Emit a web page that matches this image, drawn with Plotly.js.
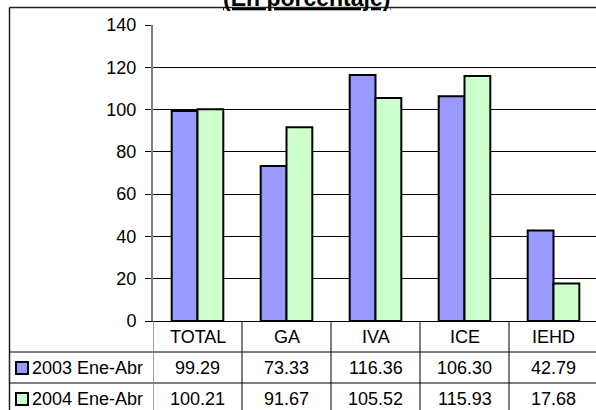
<!DOCTYPE html>
<html>
<head>
<meta charset="utf-8">
<script src="https://cdn.plot.ly/plotly-3.0.1.min.js"></script>
<style>
  html, body { margin: 0; padding: 0; overflow: hidden; background: #fff; }
  #chart { width: 598px; height: 410px; }
</style>
</head>
<body>
<div id="chart"></div>
<script>
const categories = ['TOTAL', 'GA', 'IVA', 'ICE', 'IEHD'];
const seriesNames = ['2003 Ene-Abr', '2004 Ene-Abr'];
const values2003 = [99.29, 73.33, 116.36, 106.30, 42.79];
const values2004 = [100.21, 91.67, 105.52, 115.93, 17.68];
const yTicks = [0, 20, 40, 60, 80, 100, 120, 140];
const titleText = '(En porcentaje)';

const colors = ['#9999FF', '#CCFFCC'];
const FONT = 'Liberation Sans, Arial, sans-serif';
const FS = 18;

// pixel -> paper helpers (plot area: x 153..598, y 25..321)
const L = 153, R = 598, T = 25, B = 321;
const px = v => (v - L) / (R - L);
const py = v => (B - v) / (B - T);

const traces = [values2003, values2004].map((vals, i) => ({
  type: 'bar',
  name: seriesNames[i],
  x: categories,
  y: vals,
  marker: { color: colors[i], line: { color: '#000', width: 2 } },
  hoverinfo: 'none'
}));

const shapes = [];
const annotations = [];
const lineBlack = { color: '#000', width: 1 };

// outer chart border (left and top)
shapes.push({ type: 'line', xref: 'paper', yref: 'paper', x0: px(9.5), x1: px(600), y0: py(7.5), y1: py(7.5), line: { color: '#222', width: 1.5 } });
shapes.push({ type: 'line', xref: 'paper', yref: 'paper', x0: px(9.5), x1: px(9.5), y0: py(7.5), y1: py(420), line: { color: '#222', width: 1.5 } });

// table horizontal lines
[352, 383].forEach(yv => {
  shapes.push({ type: 'line', xref: 'paper', yref: 'paper', x0: px(9.5), x1: px(600), y0: py(yv), y1: py(yv), line: lineBlack });
});
// table vertical lines between categories
categories.forEach((c, i) => {
  const xv = i + 0.5;
  shapes.push({ type: 'line', xref: 'x', yref: 'paper', x0: xv, x1: xv, y0: 0, y1: py(420), line: lineBlack });
});
// continuation of y axis into table
shapes.push({ type: 'line', xref: 'x', yref: 'paper', x0: -0.5, x1: -0.5, y0: 0, y1: py(420), line: { color: '#808080', width: 1.5 } });

// chart title (partly cut by the top edge, as in the reference)
annotations.push({ xref: 'paper', yref: 'paper', x: px(306), y: py(-2), text: '<b><u>' + titleText + '</u></b>', showarrow: false, xanchor: 'center', yanchor: 'middle', font: { family: FONT, size: 23, color: '#000' } });

// category labels
categories.forEach((c, i) => {
  annotations.push({ xref: 'x', yref: 'paper', x: i, y: py(337), text: c, showarrow: false, xanchor: 'center', yanchor: 'middle', font: { family: FONT, size: FS, color: '#000' } });
});

// table values
const rowCenters = [368, 399];
[values2003, values2004].forEach((vals, r) => {
  vals.forEach((v, i) => {
    annotations.push({ xref: 'x', yref: 'paper', x: i, y: py(rowCenters[r]), text: v.toFixed(2), showarrow: false, xanchor: 'center', yanchor: 'middle', font: { family: FONT, size: FS, color: '#000' } });
  });
  // legend key
  shapes.push({ type: 'rect', xref: 'paper', yref: 'paper', x0: px(16), x1: px(28), y0: py(rowCenters[r] - 6), y1: py(rowCenters[r] + 6), fillcolor: colors[r], line: { color: '#000', width: 2 } });
  annotations.push({ xref: 'paper', yref: 'paper', x: px(30), y: py(rowCenters[r]), text: seriesNames[r], showarrow: false, xanchor: 'left', yanchor: 'middle', font: { family: FONT, size: FS, color: '#000' } });
});

const layout = {
  width: 598,
  height: 410,
  margin: { l: L, r: 0, t: T, b: 410 - B },
  paper_bgcolor: '#fff',
  plot_bgcolor: '#fff',
  showlegend: false,
  barmode: 'group',
  bargap: 0.42,
  bargroupgap: 0,
  xaxis: {
    type: 'category',
    range: [-0.5, 4.5],
    showticklabels: false,
    ticks: '',
    showgrid: false,
    showline: true,
    linecolor: '#000',
    linewidth: 1,
    zeroline: false,
    fixedrange: true
  },
  yaxis: {
    range: [0, 140],
    tickvals: yTicks,
    ticktext: yTicks.map(String),
    ticks: 'outside',
    ticklen: 6,
    tickcolor: '#000',
    tickwidth: 1,
    ticklabelstandoff: 5,
    showgrid: true,
    gridcolor: '#000',
    gridwidth: 1,
    showline: true,
    linecolor: '#808080',
    linewidth: 2,
    zeroline: false,
    tickfont: { family: FONT, size: FS, color: '#000' },
    fixedrange: true
  },
  shapes: shapes,
  annotations: annotations
};

Plotly.newPlot('chart', traces, layout, { displayModeBar: false, staticPlot: true });
</script>
</body>
</html>
